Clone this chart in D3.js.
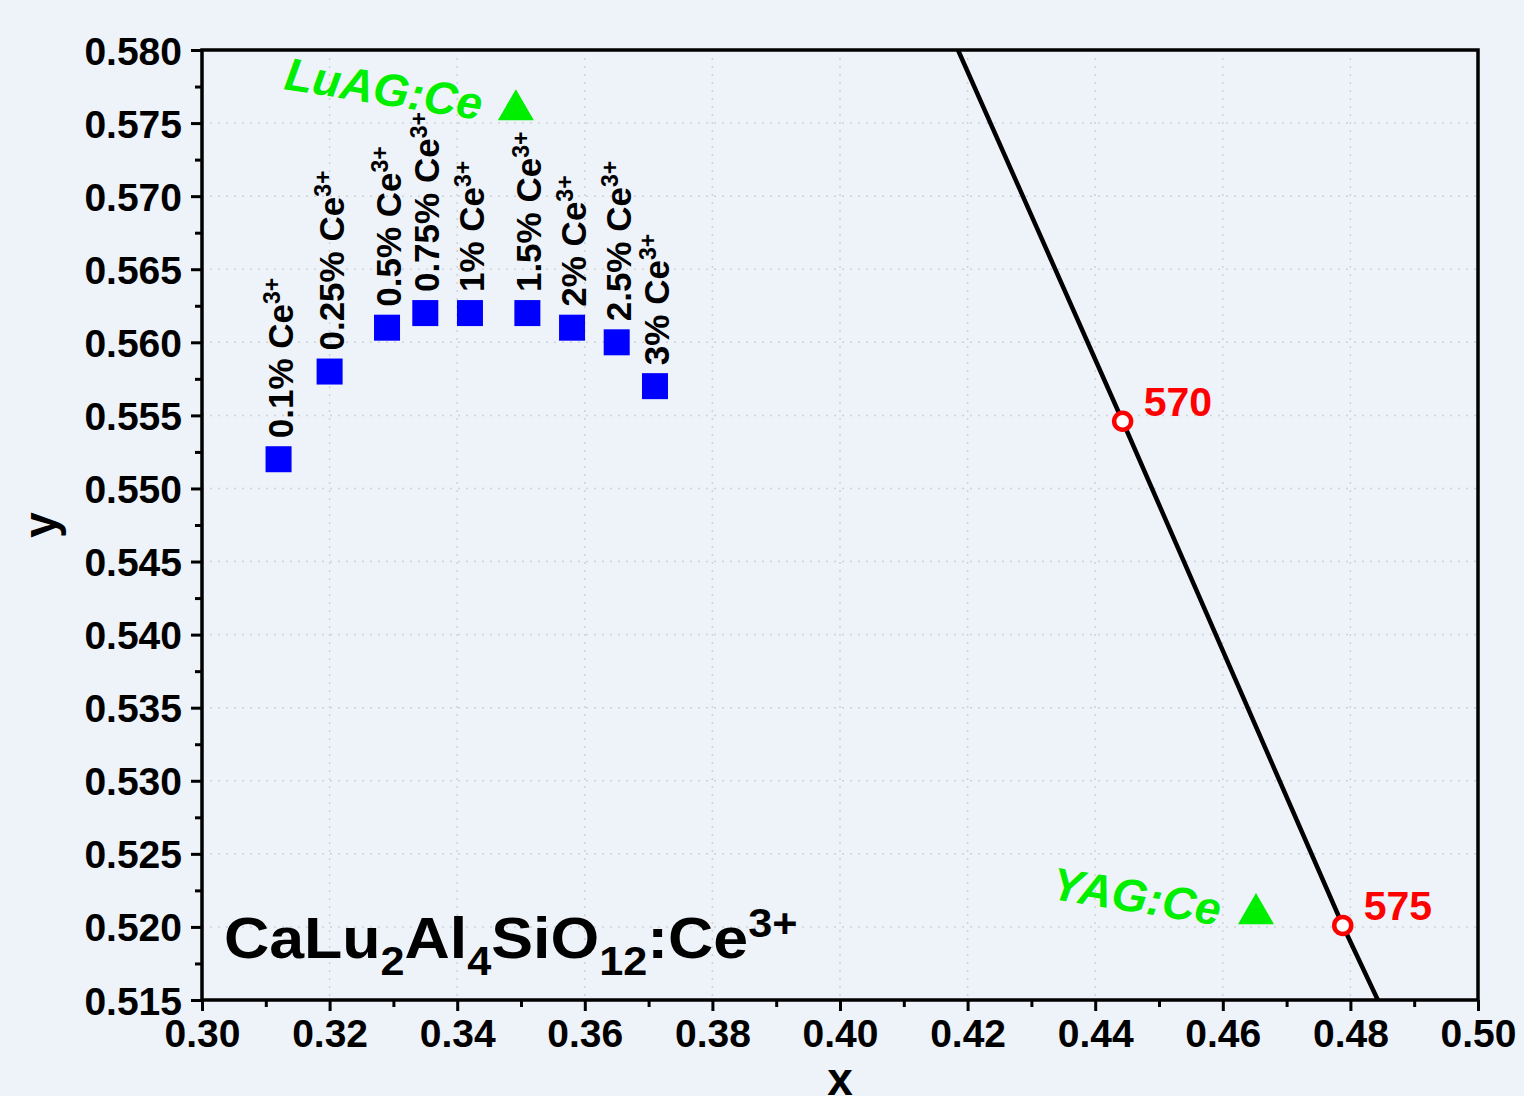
<!DOCTYPE html>
<html lang="en">
<head>
<meta charset="UTF-8">
<title>CaLu2Al4SiO12:Ce3+ chromaticity</title>
<script src="https://cdnjs.cloudflare.com/ajax/libs/d3/7.8.5/d3.min.js"></script>
<style>
    body { margin: 0; background: #eef2f9; font-family: "Liberation Sans", Arial, sans-serif; }
    svg { display: block; }
    .tick text { font-weight: bold; }
</style>
</head>
<body>
<svg width="1524" height="1096"></svg>
<script>
// concentration series (blue squares)
const concLabels = ["0.1%", "0.25%", "0.5%", "0.75%", "1%", "1.5%", "2%", "2.5%", "3%"];
const concX = [0.312, 0.320, 0.329, 0.335, 0.342, 0.351, 0.358, 0.365, 0.371];
const concY = [0.552, 0.558, 0.561, 0.562, 0.562, 0.562, 0.561, 0.560, 0.557];

// reference phosphors (green triangles)
const refNames = ["LuAG:Ce", "YAG:Ce"];
const refX = [0.3492, 0.4652];
const refY = [0.5759, 0.5209];

// spectral locus segment and marked wavelengths
const locusX = [0.4185, 0.4443, 0.4788, 0.4843];
const locusY = [0.580, 0.5546, 0.5201, 0.515];
const waveLabels = ["570", "575"];
const waveX = [0.4443, 0.4788];
const waveY = [0.5546, 0.5201];

const xTicks = d3.range(0.30, 0.5001, 0.02);
const yTicks = d3.range(0.515, 0.5801, 0.005);

const margin = {left: 202, top: 50, right: 46, bottom: 96};
const W = 1524 - margin.left - margin.right;
const H = 1096 - margin.top - margin.bottom;

const svg = d3.select("svg");
const g = svg.append("g").attr("transform", `translate(${margin.left},${margin.top})`);

const x = d3.scaleLinear().domain([0.30, 0.50]).range([0, W]);
const y = d3.scaleLinear().domain([0.515, 0.580]).range([H, 0]);

// grid
g.append("g").selectAll("line").data(xTicks.slice(1, -1)).join("line")
    .attr("x1", d => x(d)).attr("x2", d => x(d)).attr("y1", 0).attr("y2", H)
    .attr("stroke", "#cfd2d8").attr("stroke-width", 1.5).attr("stroke-dasharray", "2,6");
g.append("g").selectAll("line").data(yTicks.slice(1, -1)).join("line")
    .attr("y1", d => y(d)).attr("y2", d => y(d)).attr("x1", 0).attr("x2", W)
    .attr("stroke", "#cfd2d8").attr("stroke-width", 1.5).attr("stroke-dasharray", "2,6");

// clip for the locus line
g.append("clipPath").attr("id", "plot").append("rect").attr("width", W).attr("height", H);

g.append("path")
    .datum(d3.zip(locusX, locusY))
    .attr("clip-path", "url(#plot)")
    .attr("fill", "none").attr("stroke", "#000").attr("stroke-width", 4.5)
    .attr("d", d3.line().x(d => x(d[0])).y(d => y(d[1])));

// axes
const xMinor = d3.range(0.31, 0.50, 0.02);
const yMinor = d3.range(0.5175, 0.580, 0.005);

const xAxis = g.append("g").attr("transform", `translate(0,${H})`)
    .call(d3.axisBottom(x).tickValues(xTicks).tickFormat(d3.format(".2f")).tickSize(11).tickSizeOuter(0).tickPadding(8));
g.append("g").attr("transform", `translate(0,${H})`)
    .call(d3.axisBottom(x).tickValues(xMinor).tickFormat("").tickSize(7).tickSizeOuter(0));
const yAxis = g.append("g")
    .call(d3.axisLeft(y).tickValues(yTicks).tickFormat(d3.format(".3f")).tickSize(11).tickSizeOuter(0).tickPadding(9));
g.append("g")
    .call(d3.axisLeft(y).tickValues(yMinor).tickFormat("").tickSize(7).tickSizeOuter(0));

g.selectAll(".domain").remove();
g.selectAll(".tick line").attr("stroke", "#000").attr("stroke-width", 3);
g.selectAll(".tick text").attr("fill", "#000").style("font-size", "39px");
xAxis.selectAll(".tick text").attr("dy", "0.72em");
yAxis.selectAll(".tick text").attr("dy", "0.36em");

// frame
g.append("rect").attr("width", W).attr("height", H)
    .attr("fill", "none").attr("stroke", "#000").attr("stroke-width", 3.5);

// axis titles
svg.append("text").attr("x", margin.left + x(0.40)).attr("y", 1095)
    .attr("text-anchor", "middle").style("font-size", "46px").style("font-weight", "bold").text("x");
svg.append("text").attr("transform", `translate(56,${margin.top + y(0.5475)}) rotate(-90)`)
    .attr("text-anchor", "middle").style("font-size", "46px").style("font-weight", "bold").text("y");

// blue squares
const sq = 26;
g.append("g").selectAll("rect").data(d3.range(concX.length)).join("rect")
    .attr("x", i => x(concX[i]) - sq / 2).attr("y", i => y(concY[i]) - sq / 2)
    .attr("width", sq).attr("height", sq).attr("fill", "#0000ff");

// concentration labels
const lbl = g.append("g").selectAll("text").data(d3.range(concX.length)).join("text")
    .attr("transform", i => `translate(${x(concX[i]) + 14},${y(concY[i]) - 21}) rotate(-90)`)
    .style("font-size", "35px").style("font-weight", "bold").attr("fill", "#000");
lbl.append("tspan").text(i => concLabels[i] + " Ce");
lbl.append("tspan").attr("dy", "-0.55em").style("font-size", "23px").text("3+");

// green triangles and labels
const tri = d3.symbol().type(d3.symbolTriangle).size(560);
g.append("g").selectAll("path").data(d3.range(refX.length)).join("path")
    .attr("transform", i => `translate(${x(refX[i])},${y(refY[i])})`)
    .attr("d", tri).attr("fill", "#00ee00");
const refOffset = [[-233, -21], [-206, -15]];
g.append("g").selectAll("text").data(d3.range(refX.length)).join("text")
    .attr("transform", i => `translate(${x(refX[i]) + refOffset[i][0]},${y(refY[i]) + refOffset[i][1]}) rotate(9)`)
    .attr("fill", "#00ee00").style("font-size", "46px").style("font-weight", "bold").style("font-style", "italic")
    .text(i => refNames[i]);

// wavelength markers
g.append("g").selectAll("circle").data(d3.range(waveX.length)).join("circle")
    .attr("cx", i => x(waveX[i])).attr("cy", i => y(waveY[i])).attr("r", 8.5)
    .attr("fill", "#fff").attr("stroke", "#ff0000").attr("stroke-width", 4.5);
g.append("g").selectAll("text").data(d3.range(waveX.length)).join("text")
    .attr("x", i => x(waveX[i]) + 21).attr("y", i => y(waveY[i]) - 5)
    .attr("fill", "#ff0000").style("font-size", "41px").style("font-weight", "bold")
    .text(i => waveLabels[i]);

// formula
const f = g.append("text").attr("transform", "translate(22,908) scale(1.08,1)")
    .style("font-size", "58px").style("font-weight", "bold").attr("fill", "#000");
const parts = [["CaLu", 0], ["2", 1], ["Al", 0], ["4", 1], ["SiO", 0], ["12", 1], [":Ce", 0], ["3+", 2]];
let shift = 0;
parts.forEach(([t, k]) => {
    const target = k === 1 ? 17 : k === 2 ? -21 : 0;
    f.append("tspan").attr("dy", target - shift)
        .style("font-size", k === 0 ? "58px" : "40px").text(t);
    shift = target;
});
</script>
</body>
</html>
